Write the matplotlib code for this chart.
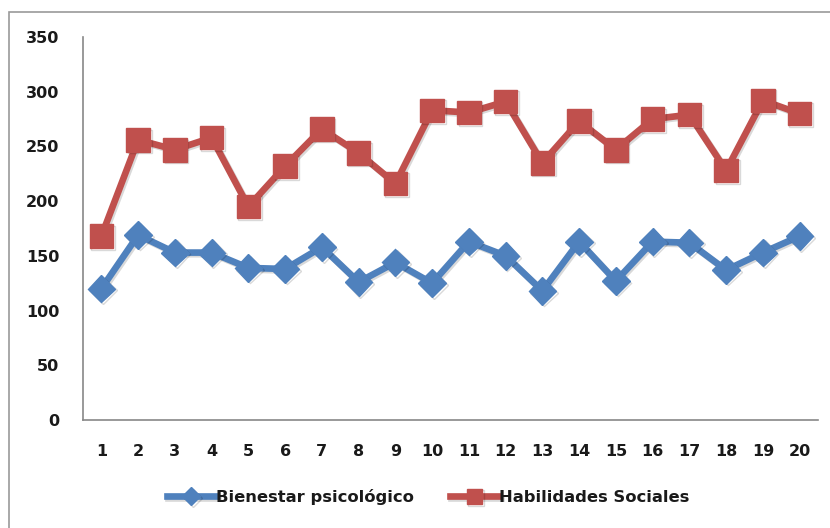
import matplotlib
matplotlib.use("Agg")
import matplotlib.pyplot as plt
import matplotlib.patheffects as pe
from matplotlib.patches import Rectangle

categories = list(range(1, 21))
bienestar = [120, 169, 153, 153, 139, 138, 158, 126, 144, 125,
             163, 150, 118, 163, 127, 163, 162, 137, 153, 168]
habilidades = [168, 256, 247, 258, 195, 232, 266, 244, 216, 283,
               281, 291, 235, 273, 247, 275, 279, 228, 292, 280]
yticks = [0, 50, 100, 150, 200, 250, 300, 350]

plt.rcParams['font.family'] = ['DejaVu Sans']

fig = plt.figure(figsize=(8.3, 5.28), dpi=100)
fig.patches.append(Rectangle((9/830, -0.1), 1.0, (528-12)/528 + 0.1,
                             transform=fig.transFigure, fill=False,
                             edgecolor="#9a9a9a", linewidth=1.2))

ax = fig.add_axes([83/830, 1-420/528, (818-83)/830, (420-37)/528])

shadow = [pe.SimpleLineShadow(offset=(1.2, -1.2), alpha=0.15), pe.Normal()]
ax.plot(categories, bienestar, color="#4F81BD", linewidth=4.8, marker="D",
        markersize=14, label="Bienestar psicológico", path_effects=shadow)
ax.plot(categories, habilidades, color="#C0504D", linewidth=4.8, marker="s",
        markersize=17, label="Habilidades Sociales", path_effects=shadow)

ax.set_xlim(0.5, 20.5)
ax.set_ylim(0, 350)
ax.set_xticks(categories)
ax.set_xticklabels([str(c) for c in categories])
ax.set_yticks(yticks)
for s in ["top", "right"]:
    ax.spines[s].set_visible(False)
for s in ["left", "bottom"]:
    ax.spines[s].set_color("#888888")
    ax.spines[s].set_linewidth(1.2)
ax.tick_params(axis="both", length=0, labelsize=11.5, colors="#1a1a1a")
ax.tick_params(axis="x", pad=17)
ax.tick_params(axis="y", pad=17)
for lbl in ax.get_xticklabels() + ax.get_yticklabels():
    lbl.set_fontweight("bold")

leg = fig.legend(loc="center", bbox_to_anchor=(428/830, 1-497/528), ncol=2,
                 frameon=False, fontsize=11.8, handlelength=3.0,
                 handletextpad=0.0, columnspacing=2.2, markerscale=0.65)
for t in leg.get_texts():
    t.set_fontweight("bold")
    t.set_color("#1a1a1a")

fig.savefig("out.png", dpi=100)
